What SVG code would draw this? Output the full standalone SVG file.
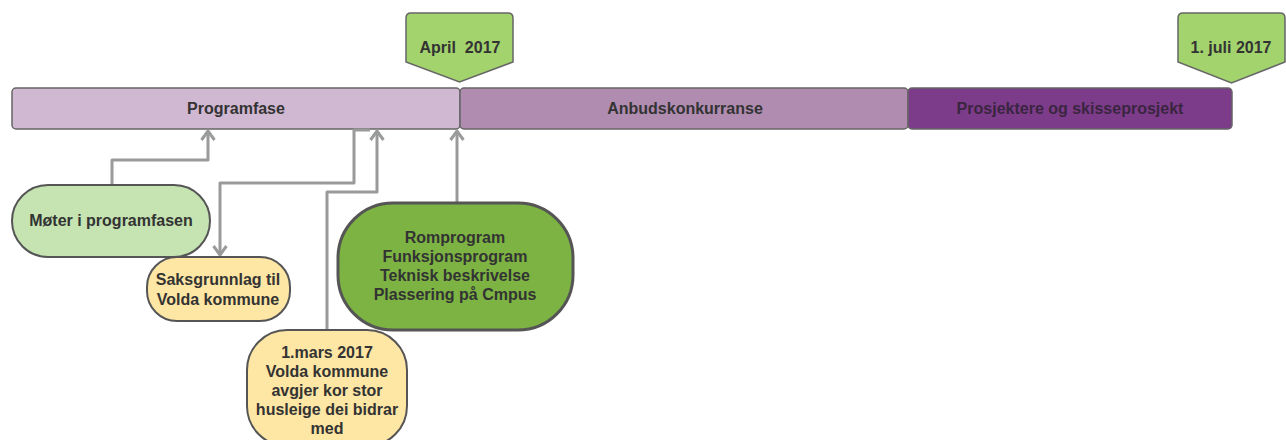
<svg xmlns="http://www.w3.org/2000/svg" width="1286" height="440" viewBox="0 0 1286 440">
<style>
text{font-family:"Liberation Sans",Arial,sans-serif;font-weight:bold;font-size:16px;fill:#333;text-anchor:middle;dominant-baseline:central}
.bar{stroke:#666;stroke-width:1.5}
.flag{fill:#a3d36d;stroke:#666;stroke-width:1.5}
.conn{fill:none;stroke:#9a9a9a;stroke-width:3;stroke-linejoin:round}
.pill{stroke:#555;stroke-width:2}
</style>
<defs>
<marker id="ah" viewBox="0 0 12 16" refX="10" refY="8" markerWidth="12" markerHeight="16" orient="auto" markerUnits="userSpaceOnUse">
<path d="M1,1.5 L10,8 L1,14.5" fill="none" stroke="#9a9a9a" stroke-width="3"/>
</marker>
</defs>
<rect width="1286" height="440" fill="#fff"/>
<g id="bar-programfase"><rect class="bar" x="12" y="88" width="448" height="41" rx="4" fill="#d1b8d2"/><text x="236" y="108">Programfase</text></g>
<g id="bar-anbud"><rect class="bar" x="460" y="88" width="448" height="41" rx="4" fill="#b08cb1"/><text x="685" y="108">Anbudskonkurranse</text></g>
<g id="bar-prosjektere"><rect class="bar" x="908" y="88" width="324" height="41" rx="4" fill="#7d3c8a"/><text x="1070" y="108" style="fill:#3a2540">Prosjektere og skisseprosjekt</text></g>
<g id="flag-april"><path class="flag" d="M406 62 L406 18 Q406 13 411 13 L508 13 Q513 13 513 18 L513 62 L459.5 82 Z"/><text x="460" y="47" style="white-space:pre">April  2017</text></g>
<g id="flag-juli"><path class="flag" d="M1178 62 L1178 18 Q1178 13 1183 13 L1280 13 Q1285 13 1285 18 L1285 62 L1231.5 83 Z"/><text x="1231" y="47">1. juli 2017</text></g>
<g id="connectors">
<path class="conn" d="M112 185 L112 160 L208 160 L208 131" marker-end="url(#ah)"/>
<path class="conn" d="M370 130 L354 130 L354 183 L220 183 L220 255" marker-end="url(#ah)"/>
<path class="conn" d="M327 330 L327 192 L377 192 L377 131" marker-end="url(#ah)"/>
<path class="conn" d="M457 203 L457 131" marker-end="url(#ah)"/>
</g>
<g id="node-moter"><rect class="pill" x="12" y="185" width="198" height="72" rx="36" fill="#c5e4b1"/><text x="111" y="220">Møter i programfasen</text></g>
<g id="node-saksgrunnlag"><rect class="pill" x="147" y="257" width="143" height="64" rx="30" fill="#fee6a4"/><text x="218" y="279">Saksgrunnlag til</text><text x="218" y="299">Volda kommune</text></g>
<g id="node-romprogram"><rect x="338" y="203" width="235" height="127" rx="55" fill="#7cb342" stroke="#555" stroke-width="3"/><text x="455" y="237">Romprogram</text><text x="455" y="256">Funksjonsprogram</text><text x="455" y="275">Teknisk beskrivelse</text><text x="455" y="294">Plassering på Cmpus</text></g>
<g id="node-mars"><rect class="pill" x="247" y="330" width="160" height="116" rx="40" fill="#fee6a4"/><text x="327" y="352">1.mars 2017</text><text x="327" y="371">Volda kommune</text><text x="327" y="390">avgjer kor stor</text><text x="327" y="409">husleige dei bidrar</text><text x="327" y="428">med</text></g>
</svg>
